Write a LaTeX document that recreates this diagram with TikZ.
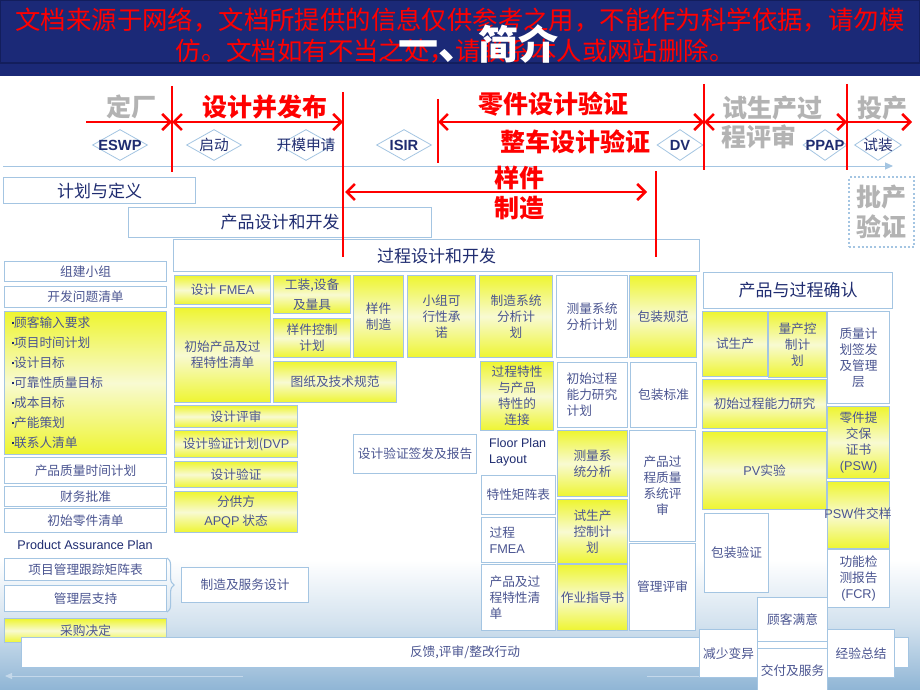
\documentclass[tikz,border=0pt]{standalone}
\usepackage{fontspec}
\setmainfont{Noto Sans CJK SC}
\newfontfamily\latf{Liberation Sans}
\usetikzlibrary{arrows.meta,shapes.geometric,decorations.pathreplacing}
\definecolor{navy}{HTML}{1B2977}
\definecolor{navyd}{HTML}{131E5C}
\definecolor{txt}{HTML}{4B5591}
\definecolor{hdr}{HTML}{1F2C70}
\definecolor{bord}{HTML}{A4C5E2}
\definecolor{ylw}{HTML}{EEF530}
\definecolor{ylwl}{HTML}{F8FAD2}
\definecolor{gry}{HTML}{B3B3B3}
\definecolor{bgb}{HTML}{8FB5D5}
\definecolor{faint}{HTML}{C4D8EA}
\newcommand\ltn[1]{{\latf #1}}
\newcommand\bxat[7]{\pgfmathsetmacro\bw{#5-#3}\pgfmathsetmacro\bh{#6-#4}\node[#1,minimum width=\bw pt,minimum height=\bh pt,anchor=north west] (#2) at (#3,#4) {#7};}
\tikzset{
 bb/.style={draw=bord, line width=1.1pt, inner sep=1pt, align=center, text=txt, font=\fontsize{12.7}{16}\selectfont},
 wbx/.style={bb, fill=white},
 ybx/.style={bb, top color=ylw, bottom color=ylw, middle color=ylwl},
 hbx/.style={wbx, text=hdr, font=\fontsize{17}{20}\selectfont},
 rl/.style={draw=red, line width=2.6pt},
 rb/.tip={Straight Barb[length=8pt,width=16pt]},
 rt/.style={text=red, font=\fontsize{25}{30}\selectfont\bfseries, inner sep=0, align=center},
 gt/.style={text=gry, font=\fontsize{25}{30}\selectfont\bfseries, inner sep=0, align=center},
 dia/.style={diamond, draw=bord, line width=0.8pt, minimum width=55pt, minimum height=31pt, inner sep=0},
 dt/.style={text=hdr, font=\fontsize{14.7}{16}\selectfont, inner sep=0},
}
\begin{document}
\begin{tikzpicture}[x=1pt,y=-1pt]
\useasboundingbox (0,0) rectangle (920,690);
\fill[white] (0,0) rectangle (920,690);
\shade[top color=white, bottom color=bgb, middle color=bgb!40] (0,560) rectangle (920,690);
% banner
\fill[navy] (0,0) rectangle (920,76);
\draw[navyd, line width=1.2pt] (0.6,0.6) rectangle (919.4,63);
\node[text=red, font=\fontsize{25.4}{30}\selectfont, inner sep=0] (wm1) at (460,20) {文档来源于网络，文档所提供的信息仅供参考之用，不能作为科学依据，请勿模};
\node[text=red, font=\fontsize{25.4}{30}\selectfont, inner sep=0] (wm2) at (455,51) {仿。文档如有不当之处，请联系本人或网站删除。};
\node[text=white, font=\fontsize{40}{40}\selectfont\bfseries, inner sep=0] (title) at (478,44) {一、简介};
% faint bottom arrows
\coordinate (fa1) at (243,676); \coordinate (fa2) at (5,676);
\coordinate (fa3) at (647,676); \coordinate (fa4) at (700,676);
\draw[faint, line width=1pt, -{Triangle[length=7pt,width=6pt]}] (fa1) -- (fa2);
\draw[faint, line width=1pt] (fa3) -- (fa4);
% timeline
\coordinate (tl1) at (3,166); \coordinate (tl2) at (893,166);
\draw[bord, line width=1pt, -{Triangle[length=8pt,width=7pt]}] (tl1) -- (tl2);
\node[dia] (d1) at (120,145) {}; \node[dt] at (d1) {\ltn{\bfseries ESWP}};
\node[dia] (d2) at (214,145) {}; \node[dt] at (d2) {启动};
\node[dia] (d3) at (306,145) {}; \node[dt] at (d3) {开模申请};
\node[dia] (d4) at (404,145) {}; \node[dt] at (d4) {\ltn{\bfseries ISIR}};
\node[dia, minimum width=46pt] (d5) at (680,145) {}; \node[dt] at (d5) {\ltn{\bfseries DV}};
\node[dia, minimum width=44pt] (d6) at (825,145) {}; \node[dt] at (d6) {\ltn{\bfseries PPAP}};
\node[dia, minimum width=47pt] (d7) at (878,145) {}; \node[dt] at (d7) {试装};
% phase titles
\node[gt] (dc) at (131,107) {定厂};
\node[rt] (sjbf) at (265,107) {设计并发布};
\node[rt] (ljyz) at (553,104) {零件设计验证};
\node[rt] (zcyz) at (575,142) {整车设计验证};
\node[gt] (scg) at (772,108) {试生产过};
\node[gt] (pss) at (759,137) {程评审};
\node[gt] (tc) at (882,108) {投产};
\node[rt] (yjzzt) at (519,193) {样件\\制造};
\node[draw=bord, line width=2.2pt, dash pattern=on 2pt off 2.2pt, minimum width=65pt, minimum height=70pt, anchor=north west, gt] (pcyz) at (848,176) {批产\\验证};
% header boxes
\bxat{hbx}{jh}{3}{177}{195}{203}{计划与定义}
\bxat{hbx}{cpsj}{128}{207}{431}{237}{产品设计和开发}
\bxat{hbx}{gcsj}{173}{239}{699}{271}{过程设计和开发}
% left column
\bxat{wbx}{zj}{4}{261}{166}{281}{组建小组}
\bxat{wbx}{kf}{4}{286}{166}{307}{开发问题清单}
\bxat{ybx,align=left,text width=148pt,font=\fontsize{12.7}{20}\selectfont}{lst}{4}{311}{166}{454}{%
\textcolor{hdr}{\raisebox{3.5pt}{\rule{2.6pt}{2.6pt}}}顾客输入要求\\
\textcolor{hdr}{\raisebox{3.5pt}{\rule{2.6pt}{2.6pt}}}项目时间计划\\
\textcolor{hdr}{\raisebox{3.5pt}{\rule{2.6pt}{2.6pt}}}设计目标\\
\textcolor{hdr}{\raisebox{3.5pt}{\rule{2.6pt}{2.6pt}}}可靠性质量目标\\
\textcolor{hdr}{\raisebox{3.5pt}{\rule{2.6pt}{2.6pt}}}成本目标\\
\textcolor{hdr}{\raisebox{3.5pt}{\rule{2.6pt}{2.6pt}}}产能策划\\
\textcolor{hdr}{\raisebox{3.5pt}{\rule{2.6pt}{2.6pt}}}联系人清单}
\bxat{wbx}{cpzl}{4}{457}{166}{483}{产品质量时间计划}
\bxat{wbx}{cw}{4}{486}{166}{506}{财务批准}
\bxat{wbx}{cs}{4}{508}{166}{532}{初始零件清单}
\node[text=hdr, font=\latf\fontsize{12.6}{15}\selectfont, inner sep=0] (pap) at (85,545) {Product Assurance Plan};
\bxat{wbx}{xm}{4}{558}{166}{580}{项目管理跟踪矩阵表}
\bxat{wbx}{gl}{4}{585}{166}{611}{管理层支持}
\bxat{wbx}{zz}{181}{567}{308}{602}{制造及服务设计}
\draw[bord, line width=1.1pt, decorate, decoration={brace, amplitude=7pt}] (xm.north east) -- (gl.south east);
\bxat{ybx}{cg}{4}{618}{166}{642}{采购决定}
% column 2
\bxat{ybx}{dfmea}{174}{275}{270}{304}{设计 \ltn{FMEA}}
\bxat{ybx}{cscp}{174}{307}{270}{402}{初始产品及过\\程特性清单}
\bxat{ybx,font=\fontsize{12.7}{20}\selectfont}{gz}{273}{275}{350}{313}{工装,设备\\及量具}
\bxat{ybx}{yjkz}{273}{318}{350}{357}{样件控制\\计划}
\bxat{ybx}{tz}{273}{361}{396}{402}{图纸及技术规范}
\bxat{ybx}{yjzz}{353}{275}{403}{357}{样件\\制造}
\bxat{ybx}{xzkx}{407}{275}{475}{357}{小组可\\行性承\\诺}
\bxat{ybx}{sjps}{174}{405}{297}{427}{设计评审}
\bxat{ybx}{dvp}{174}{430}{297}{457}{设计验证计划(\ltn{DVP}}
\bxat{ybx}{sjyz}{174}{461}{297}{487}{设计验证}
\bxat{ybx,font=\fontsize{12.7}{19}\selectfont}{gfs}{174}{491}{297}{532}{分供方\\\ltn{APQP} 状态}
\bxat{wbx}{sjqf}{353}{434}{476}{473}{设计验证签发及报告}
% column 3
\bxat{ybx}{zzxt}{479}{275}{552}{357}{制造系统\\分析计\\划}
\bxat{ybx}{gctx}{480}{361}{553}{430}{过程特性\\与产品\\特性的\\连接}
\node[text=hdr, font=\latf\fontsize{12.5}{16}\selectfont, align=left, inner sep=0, anchor=north west] (fpl) at (489,438) {Floor Plan\\Layout};
\bxat{wbx,align=left,text width=64pt}{txjz}{481}{475}{555}{514}{特性矩阵表}
\bxat{wbx,align=left,text width=58pt}{gcfmea}{481}{517}{555}{562}{过程\\\ltn{FMEA}}
\bxat{wbx,align=left,text width=58pt}{cpgc}{481}{564}{555}{630}{产品及过\\程特性清\\单}
% column 4
\bxat{wbx}{clxt}{556}{275}{627}{357}{测量系统\\分析计划}
\bxat{wbx,align=left,text width=52pt}{csgc}{557}{362}{627}{427}{初始过程\\能力研究\\计划}
\bxat{ybx}{clfx}{557}{430}{627}{496}{测量系\\统分析}
\bxat{ybx}{scsk}{557}{499}{627}{563}{试生产\\控制计\\划}
\bxat{ybx}{zyzd}{557}{564}{627}{630}{作业指导书}
% column 5
\bxat{ybx}{bzgf}{629}{275}{696}{357}{包装规范}
\bxat{wbx}{bzbz}{630}{362}{696}{427}{包装标准}
\bxat{wbx}{cpgczl}{629}{430}{695}{541}{产品过\\程质量\\系统评\\审}
\bxat{wbx}{glps}{629}{543}{695}{630}{管理评审}
% right block
\bxat{hbx}{cpqr}{703}{272}{892}{308}{产品与过程确认}
\bxat{ybx}{ssc}{702}{311}{767}{376}{试生产}
\bxat{ybx}{lckz}{768}{311}{826}{377}{量产控\\制计\\划}
\bxat{wbx}{zljh}{827}{311}{889}{403}{质量计\\划签发\\及管理\\层}
\bxat{ybx}{csnl}{702}{379}{826}{428}{初始过程能力研究}
\bxat{ybx}{pv}{702}{431}{826}{509}{\ltn{PV}实验}
\bxat{ybx}{psw}{827}{406}{889}{478}{零件提\\交保\\证书\\\ltn{(PSW)}}
\bxat{ybx}{pswj}{827}{481}{889}{548}{}
\node[text=txt, font=\fontsize{12.7}{16}\selectfont, inner sep=0] (pswjt) at (858,514) {\ltn{PSW}件交样};
\bxat{wbx}{bzyz}{704}{513}{768}{592}{包装验证}
\bxat{wbx}{gnjc}{827}{549}{889}{607}{功能检\\测报告\\\ltn{(FCR)}}
% bottom
\bxat{wbx}{fk}{21}{637}{908}{667}{反馈,评审/整改行动}
\bxat{wbx}{gkmy}{757}{597}{827}{641}{顾客满意}
\bxat{wbx}{jsby}{699}{629}{757}{677}{减少变异}
\bxat{wbx}{jfff}{757}{648}{827}{692}{交付及服务}
\bxat{wbx}{jyzj}{827}{629}{894}{677}{经验总结}
% red phase lines and arrows
\coordinate (v1t) at (172,86);  \coordinate (v1b) at (172,172); \coordinate (v1m) at (172,122);
\coordinate (v2t) at (343,92);  \coordinate (v2b) at (343,257); \coordinate (v2m) at (343,122);
\coordinate (v3t) at (438,99);  \coordinate (v3b) at (438,163); \coordinate (v3m) at (438,122);
\coordinate (v4t) at (704,84);  \coordinate (v4b) at (704,170); \coordinate (v4m) at (704,122);
\coordinate (v5t) at (847,84);  \coordinate (v5b) at (847,170); \coordinate (v5m) at (847,122);
\coordinate (v6t) at (656,171); \coordinate (v6b) at (656,257);
\coordinate (a0) at (86,122); \coordinate (a9) at (912,122);
\coordinate (s1) at (345,192); \coordinate (s2) at (647,192);
\draw[rl] (v1t) -- (v1b);
\draw[rl] (v2t) -- (v2b);
\draw[rl] (v3t) -- (v3b);
\draw[rl] (v4t) -- (v4b);
\draw[rl] (v5t) -- (v5b);
\draw[rl] (v6t) -- (v6b);
\draw[rl, -rb] (a0) -- (v1m);
\draw[rl, rb-rb] (v1m) -- (v2m);
\draw[rl, rb-rb] (v3m) -- (v4m);
\draw[rl, rb-rb] (v4m) -- (v5m);
\draw[rl, -rb] (v5m) -- (a9);
\draw[rl, rb-rb] (s1) -- (s2);
\end{tikzpicture}
\end{document}
